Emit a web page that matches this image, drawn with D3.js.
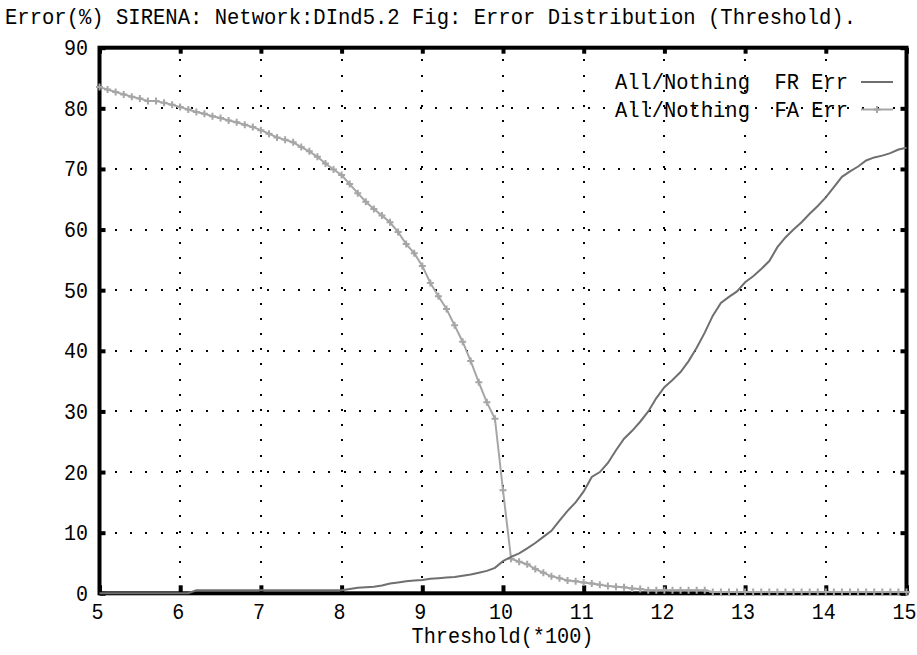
<!DOCTYPE html>
<html><head><meta charset="utf-8">
<script src="https://cdn.jsdelivr.net/npm/d3@7"></script>
<style>html,body{margin:0;padding:0;background:#fff;} svg{display:block;}</style>
</head><body><svg id="chart" width="917" height="655"></svg>
<script>
const titleText = "Error(%) SIRENA: Network:DInd5.2 Fig: Error Distribution (Threshold).";
const xAxisTitle = "Threshold(*100)";
const xTickValues = [5, 6, 7, 8, 9, 10, 11, 12, 13, 14, 15];
const yTickValues = [0, 10, 20, 30, 40, 50, 60, 70, 80, 90];
const seriesNames = ["All/Nothing  FR Err", "All/Nothing  FA Err"];

const thresholds = [
  5.0, 5.1, 5.2, 5.3, 5.4, 5.5, 5.6, 5.7, 5.8, 5.9,
  6.0, 6.1, 6.2, 6.3, 6.4, 6.5, 6.6, 6.7, 6.8, 6.9,
  7.0, 7.1, 7.2, 7.3, 7.4, 7.5, 7.6, 7.7, 7.8, 7.9,
  8.0, 8.1, 8.2, 8.3, 8.4, 8.5, 8.6, 8.7, 8.8, 8.9,
  9.0, 9.1, 9.2, 9.3, 9.4, 9.5, 9.6, 9.7, 9.8, 9.9,
  10.0, 10.1, 10.2, 10.3, 10.4, 10.5, 10.6, 10.7, 10.8, 10.9,
  11.0, 11.1, 11.2, 11.3, 11.4, 11.5, 11.6, 11.7, 11.8, 11.9,
  12.0, 12.1, 12.2, 12.3, 12.4, 12.5, 12.6, 12.7, 12.8, 12.9,
  13.0, 13.1, 13.2, 13.3, 13.4, 13.5, 13.6, 13.7, 13.8, 13.9,
  14.0, 14.1, 14.2, 14.3, 14.4, 14.5, 14.6, 14.7, 14.8, 14.9,
  15.0
];

const frErr = [
  0, 0, 0, 0, 0, 0, 0, 0, 0, 0,
  0, 0, 0.5, 0.5, 0.5, 0.5, 0.5, 0.5, 0.5, 0.5,
  0.5, 0.5, 0.5, 0.5, 0.5, 0.5, 0.5, 0.5, 0.5, 0.5,
  0.5, 0.7, 0.9, 1.0, 1.1, 1.3, 1.6, 1.8, 2.0, 2.1,
  2.2, 2.4, 2.5, 2.6, 2.7, 2.9, 3.1, 3.4, 3.7, 4.2,
  5.3, 6.0, 6.6, 7.4, 8.3, 9.3, 10.3, 12.0, 13.6, 15.0,
  16.8, 19.2, 20.0, 21.5, 23.6, 25.5, 26.8, 28.3, 30.0, 32.2,
  34.0, 35.2, 36.5, 38.3, 40.5, 43.0, 45.8, 47.9, 48.9, 49.8,
  51.3, 52.3, 53.5, 54.8, 57.1, 58.7, 60.0, 61.2, 62.6, 63.9,
  65.3, 67.0, 68.7, 69.6, 70.4, 71.4, 71.9, 72.2, 72.6, 73.2,
  73.5
];

const faErr = [
  83.5, 83.1, 82.7, 82.3, 81.9, 81.6, 81.2, 81.2, 80.9, 80.6,
  80.2, 79.8, 79.4, 79.1, 78.7, 78.4, 78.0, 77.7, 77.3, 76.9,
  76.4, 75.8, 75.2, 74.8, 74.4, 73.6, 72.9, 72.0, 70.9, 69.9,
  69.0, 67.5, 66.0, 64.6, 63.4, 62.3, 61.2, 59.6, 57.6, 56.1,
  54.0, 51.2, 49.0, 46.9, 44.2, 41.5, 38.3, 34.8, 31.5, 28.8,
  17.0, 5.7, 5.2, 4.8, 4.0, 3.4, 2.8, 2.5, 2.1, 2.0,
  1.8, 1.6, 1.4, 1.2, 1.1, 1.0, 0.8, 0.7, 0.5, 0.5,
  0.5, 0.5, 0.5, 0.5, 0.5, 0.5, 0.2, 0.2, 0.2, 0.2,
  0.2, 0.2, 0.2, 0.2, 0.2, 0.2, 0.2, 0.2, 0.2, 0.2,
  0.2, 0.2, 0.2, 0.2, 0.2, 0.2, 0.2, 0.2, 0.2, 0.2,
  0.2
];

const svg = d3.select("#chart");
const x = d3.scaleLinear().domain([5, 15]).range([99.5, 906.5]);
const y = d3.scaleLinear().domain([0, 90]).range([593.3, 47.7]);
const FONT = "'Liberation Mono', 'DejaVu Sans Mono', monospace";
const FR_COLOR = "#6f6f6f";
const FA_COLOR = "#a6a6a6";

svg.append("rect").attr("width", 917).attr("height", 655).attr("fill", "#fff");

function addText(txt, px, py, anchor, len) {
  const t = svg.append("text")
    .attr("transform", `translate(${px},${py}) scale(1,1.1)`)
    .attr("font-family", FONT)
    .attr("font-size", 20)
    .attr("fill", "#000")
    .attr("text-anchor", anchor)
    .style("white-space", "pre")
    .text(txt);
  if (len) t.attr("textLength", len).attr("lengthAdjust", "spacingAndGlyphs");
  return t;
}

// Title
addText(titleText, 5, 24, "start", 851);

// Grid (dotted)
const grid = svg.append("g").attr("shape-rendering", "crispEdges");
grid.selectAll("line.vg").data(xTickValues.slice(1, -1)).join("line")
  .attr("x1", d => Math.round(x(d))).attr("x2", d => Math.round(x(d)))
  .attr("y1", y(0)).attr("y2", y(90))
  .attr("stroke", "#000").attr("stroke-width", 2).attr("stroke-dasharray", "2,13.2");
grid.selectAll("line.hg").data(yTickValues.slice(1, -1)).join("line")
  .attr("y1", d => Math.round(y(d))).attr("y2", d => Math.round(y(d)))
  .attr("x1", x(5)).attr("x2", x(15))
  .attr("stroke", "#000").attr("stroke-width", 2).attr("stroke-dasharray", "2,13.25");

// Frame
svg.append("rect")
  .attr("x", x(5)).attr("y", y(90))
  .attr("width", x(15) - x(5)).attr("height", y(0) - y(90))
  .attr("fill", "none").attr("stroke", "#000").attr("stroke-width", 4);

// Inward ticks on all sides via d3 axes
const tickStyle = g => {
  g.select(".domain").remove();
  g.selectAll(".tick line").attr("stroke", "#000").attr("stroke-width", 4);
  g.selectAll(".tick text").remove();
};
svg.append("g").attr("transform", `translate(0,${y(0)})`)
  .call(d3.axisTop(x).tickValues(xTickValues).tickSize(8).tickFormat(""))
  .call(tickStyle);
svg.append("g").attr("transform", `translate(0,${y(90)})`)
  .call(d3.axisBottom(x).tickValues(xTickValues).tickSize(6).tickFormat(""))
  .call(tickStyle);
svg.append("g").attr("transform", `translate(${x(5)},0)`)
  .call(d3.axisRight(y).tickValues(yTickValues).tickSize(6).tickFormat(""))
  .call(tickStyle);
svg.append("g").attr("transform", `translate(${x(15)},0)`)
  .call(d3.axisLeft(y).tickValues(yTickValues).tickSize(6).tickFormat(""))
  .call(tickStyle);

// Tick labels
xTickValues.forEach(d => addText(String(d), x(d) - 2, 619, "middle"));
yTickValues.forEach(d => addText(String(d), 88, y(d) + 7.5, "end"));

// Axis title
addText(xAxisTitle, 502.5, 643, "middle", 182);

// Series
const frData = thresholds.map((t, i) => [t, frErr[i]]);
const faData = thresholds.map((t, i) => [t, faErr[i]]);
const line = d3.line().x(d => x(d[0])).y(d => y(d[1]));

svg.append("path").datum(faData).attr("d", line)
  .attr("fill", "none").attr("stroke", FA_COLOR).attr("stroke-width", 2);
svg.append("g").selectAll("path").data(faData).join("path")
  .attr("d", "M-3.5,0H3.5M0,-3.5V3.5")
  .attr("transform", d => `translate(${x(d[0])},${y(d[1])})`)
  .attr("stroke", FA_COLOR).attr("stroke-width", 2).attr("fill", "none");

svg.append("path").datum(frData).attr("d", line)
  .attr("fill", "none").attr("stroke", FR_COLOR).attr("stroke-width", 2);

// Legend
const legendRows = [
  { name: seriesNames[0], color: FR_COLOR, marker: false, ly: 82 },
  { name: seriesNames[1], color: FA_COLOR, marker: true, ly: 109.5 }
];
legendRows.forEach(r => {
  addText(r.name, 848, r.ly + 7, "end", 233);
  svg.append("line").attr("x1", 861).attr("x2", 893).attr("y1", r.ly).attr("y2", r.ly)
    .attr("stroke", r.color).attr("stroke-width", 2);
  if (r.marker) {
    svg.append("path").attr("d", "M-3.5,0H3.5M0,-3.5V3.5")
      .attr("transform", `translate(877,${r.ly})`)
      .attr("stroke", r.color).attr("stroke-width", 2).attr("fill", "none");
  }
});
</script></body></html>
